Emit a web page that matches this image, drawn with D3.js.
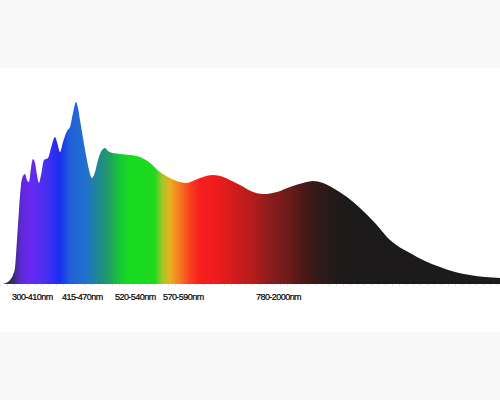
<!DOCTYPE html>
<html>
<head>
<meta charset="utf-8">
<script src="https://cdn.jsdelivr.net/npm/d3@7"></script>
<style>
  body { margin: 0; background: #fff; }
  svg { display: block; }
</style>
</head>
<body>
<svg id="chart" width="500" height="400"></svg>
<script>
// relative position along the spectrum (0-100) and relative intensity (0-100)
const position = [0.6, 1.2, 2, 2.6, 3, 3.4, 3.8, 4.2, 4.6, 5, 5.4, 5.8, 6.2, 6.6, 7, 7.4, 7.8, 8.2, 8.8, 9.6,
    10.2, 11, 11.4, 12, 12.6, 13.4, 14, 14.6, 15.2, 15.6, 16, 16.6, 17.2, 17.8, 18.4, 19, 19.6, 20.4, 21, 21.6,
    22.6, 24, 26, 28, 30, 32, 34, 36, 37.4, 39, 40.6, 42.6, 44.6, 46.4, 48, 50.6, 52.6, 55.4, 58, 60.6,
    62.6, 64.6, 66.6, 69.4, 72, 75, 78, 82, 85, 88, 91, 94, 97, 100];
const intensity = [0, 0.5, 2.2, 4.9, 8.7, 23.9, 40.2, 53.8, 58.7, 59.8, 56.5, 55.4, 63, 67.9, 65.8, 59.2, 54.9, 59.2, 67.4, 68.5,
    73.9, 79.9, 77.2, 71.7, 77.2, 83.2, 85.3, 92.9, 98.9, 95.7, 89.1, 79.3, 70.1, 62, 57.6, 60.9, 67.4, 72.8, 73.9, 72.3,
    71.2, 70.7, 70.1, 69, 65.8, 60.9, 57.6, 55.4, 54.9, 56.5, 58.2, 59.2, 58.2, 56, 53.8, 50, 48.9, 50, 52.7, 54.9,
    56, 54.9, 52.2, 47.3, 41.3, 33.2, 23.9, 16.8, 12.5, 9.2, 6.5, 4.9, 3.8, 3.3];

// colour of the spectrum at each position
const colorStops = [0.6, 2.6, 4, 6, 9, 12, 14, 17, 20, 22, 24, 26, 31, 32.4, 34, 36, 38, 40, 43, 48, 51, 54, 58, 61, 64, 68, 72, 100];
const colorValues = ["#2a2a2a", "#3a2a6a", "#5a2ad0", "#6a28f0", "#4a30f0", "#1a2ef0", "#2060d8", "#2070d0", "#1f8a8a", "#20a060",
    "#18c838", "#18dc20", "#20d820", "#a0c828", "#e8b020", "#f87820", "#f84020", "#f81e1e", "#f01c1c", "#c81c1c",
    "#b01c1c", "#8a1c1c", "#6a1a1a", "#481818", "#301a1a", "#201a1a", "#1c1a1a", "#1c1a1a"];

const labels = ["300-410nm", "415-470nm", "520-540nm", "570-590nm", "780-2000nm"];
const labelPos = [2.4, 12.4, 23, 32.6, 51.2];

const svg = d3.select("#chart");
const width = 500, height = 400;

// grey bands above and below the picture
svg.append("rect").attr("x", 0).attr("y", 0).attr("width", width).attr("height", 68).attr("fill", "#f9f9f9");
svg.append("rect").attr("x", 0).attr("y", 332).attr("width", width).attr("height", 68).attr("fill", "#f9f9f9");

const x = d3.scaleLinear().domain([0, 100]).range([0, 500]);
const y = d3.scaleLinear().domain([0, 100]).range([284, 100]);

const grad = svg.append("defs").append("linearGradient")
    .attr("id", "spectrum")
    .attr("gradientUnits", "userSpaceOnUse")
    .attr("x1", x(0)).attr("x2", x(100))
    .attr("y1", 0).attr("y2", 0);

grad.selectAll("stop")
    .data(colorStops)
    .enter().append("stop")
    .attr("offset", d => (d / 100))
    .attr("stop-color", (d, i) => colorValues[i]);

const data = position.map((p, i) => ({ p: p, v: intensity[i] }));

const area = d3.area()
    .x(d => x(d.p))
    .y0(y(0))
    .y1(d => y(d.v))
    .curve(d3.curveMonotoneX);

svg.append("path")
    .datum(data)
    .attr("d", area)
    .attr("fill", "url(#spectrum)");

// faint baseline
svg.append("line")
    .attr("x1", x(0)).attr("x2", x(100))
    .attr("y1", y(0) + 1).attr("y2", y(0) + 1)
    .attr("stroke", "#c8c8c8")
    .attr("stroke-width", 1)
    .attr("stroke-dasharray", "1,6");

svg.append("g")
    .selectAll("text")
    .data(labels)
    .enter().append("text")
    .attr("x", (d, i) => x(labelPos[i]))
    .attr("y", 300)
    .attr("font-family", "Liberation Sans, Arial, sans-serif")
    .attr("font-size", "9px")
    .attr("letter-spacing", "-0.55px")
    .attr("fill", "#000")
    .attr("stroke", "#000")
    .attr("stroke-width", 0.2)
    .text(d => d);
</script>
</body>
</html>
